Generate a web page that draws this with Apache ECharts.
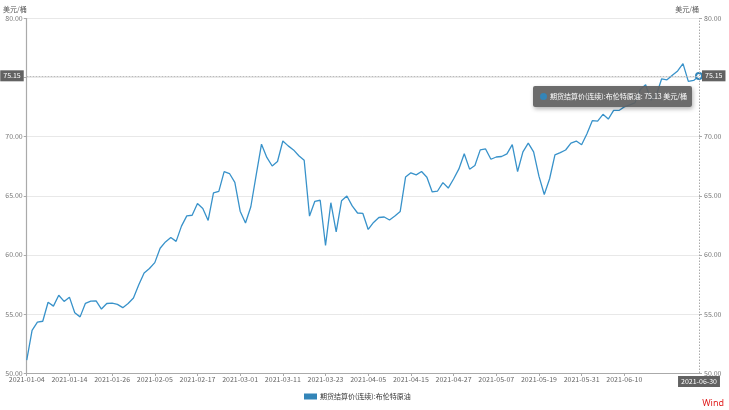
<!DOCTYPE html>
<html><head><meta charset="utf-8">
<script src="https://cdn.jsdelivr.net/npm/echarts/dist/echarts.min.js"></script>
<style>html,body{margin:0;padding:0;background:#fff}#c{width:729px;height:410px}</style>
</head><body><div id="c"></div>
<script>
const dates = [
'2021-01-04','2021-01-05','2021-01-06','2021-01-07','2021-01-08','2021-01-11','2021-01-12','2021-01-13','2021-01-14','2021-01-15',
'2021-01-18','2021-01-19','2021-01-20','2021-01-21','2021-01-22','2021-01-25','2021-01-26','2021-01-27','2021-01-28','2021-01-29',
'2021-02-01','2021-02-02','2021-02-03','2021-02-04','2021-02-05','2021-02-08','2021-02-09','2021-02-10','2021-02-11','2021-02-12',
'2021-02-15','2021-02-16','2021-02-17','2021-02-18','2021-02-19','2021-02-22','2021-02-23','2021-02-24','2021-02-25','2021-02-26',
'2021-03-01','2021-03-02','2021-03-03','2021-03-04','2021-03-05','2021-03-08','2021-03-09','2021-03-10','2021-03-11','2021-03-12',
'2021-03-15','2021-03-16','2021-03-17','2021-03-18','2021-03-19','2021-03-22','2021-03-23','2021-03-24','2021-03-25','2021-03-26',
'2021-03-29','2021-03-30','2021-03-31','2021-04-01','2021-04-05','2021-04-06','2021-04-07','2021-04-08','2021-04-09','2021-04-12',
'2021-04-13','2021-04-14','2021-04-15','2021-04-16','2021-04-19','2021-04-20','2021-04-21','2021-04-22','2021-04-23','2021-04-26',
'2021-04-27','2021-04-28','2021-04-29','2021-04-30','2021-05-03','2021-05-04','2021-05-05','2021-05-06','2021-05-07','2021-05-10',
'2021-05-11','2021-05-12','2021-05-13','2021-05-14','2021-05-17','2021-05-18','2021-05-19','2021-05-20','2021-05-21','2021-05-24',
'2021-05-25','2021-05-26','2021-05-27','2021-05-28','2021-05-31','2021-06-01','2021-06-02','2021-06-03','2021-06-04','2021-06-07',
'2021-06-08','2021-06-09','2021-06-10','2021-06-11','2021-06-14','2021-06-15','2021-06-16','2021-06-17','2021-06-18','2021-06-21',
'2021-06-22','2021-06-23','2021-06-24','2021-06-25','2021-06-28','2021-06-29','2021-06-30'
];
const brent = [
51.09,53.60,54.30,54.38,55.99,55.66,56.58,56.06,56.42,55.10,
54.75,55.90,56.08,56.10,55.41,55.88,55.91,55.81,55.53,55.88,
56.35,57.46,58.46,58.84,59.34,60.56,61.09,61.47,61.14,62.43,
63.30,63.35,64.34,63.93,62.91,65.24,65.37,67.04,66.88,66.13,
63.69,62.70,64.07,66.74,69.36,68.24,67.52,67.90,69.63,69.22,
68.88,68.39,68.00,63.28,64.53,64.62,60.79,64.41,61.95,64.57,
64.98,64.14,63.54,63.50,62.15,62.74,63.16,63.20,62.95,63.28,
63.67,66.58,66.94,66.77,67.05,66.57,65.32,65.40,66.11,65.65,
66.42,67.27,68.56,67.25,67.56,68.88,68.96,68.09,68.28,68.32,
68.55,69.32,67.05,68.71,69.46,68.71,66.66,65.11,66.44,68.46,
68.65,68.87,69.46,69.63,69.32,70.25,71.35,71.31,71.89,71.49,
72.22,72.22,72.52,72.69,72.86,73.99,74.39,73.08,73.51,74.90,
74.81,75.19,75.56,76.18,74.68,74.76,75.13
];
const seriesName = '期货结算价(连续):布伦特原油';
const unit = '美元/桶';
const yMin = 50, yMax = 80, yStep = 5;
const pointerY = 75.15;
const FONT = "'Noto Sans CJK SC','Noto Sans',sans-serif";
const COLOR = '#3385b8';

const showLabel = (i) => i % 8 === 0 && i !== 120;

const chart = echarts.init(document.getElementById('c'));
const ptrLabel = {
  show: true, backgroundColor: '#626262', color: '#fff', fontSize: 7, fontFamily: FONT,
  padding: [2, 3, 2, 3], borderRadius: 0,
  formatter: (p) => p.axisDimension === 'y' ? Number(p.value).toFixed(2) : p.value
};
const yBase = {
  type: 'value', min: yMin, max: yMax, interval: yStep,
  name: unit, nameLocation: 'end', nameGap: 6,
  nameTextStyle: { fontSize: 7, color: '#555', fontFamily: FONT, align: 'right' },
  axisLabel: { fontSize: 7, color: '#777', fontFamily: FONT, formatter: v => v.toFixed(2) },
  axisTick: { show: true, length: 3, lineStyle: { color: '#aaa' } },
  axisPointer: { label: ptrLabel }
};
chart.setOption({
  animation: false,
  grid: { left: 26, right: 30, top: 18.5, bottom: 37, containLabel: false },
  xAxis: {
    type: 'category', data: dates, boundaryGap: false,
    axisLine: { lineStyle: { color: '#aaa' } },
    axisTick: { interval: (i) => showLabel(i), length: 3, lineStyle: { color: '#aaa' } },
    axisLabel: { interval: (i) => showLabel(i), fontSize: 7, color: '#666', margin: 3, fontFamily: FONT },
    axisPointer: { label: ptrLabel }
  },
  yAxis: [
    Object.assign({}, yBase, {
      position: 'left',
      axisLine: { show: true, lineStyle: { color: '#aaa', width: 1.2 } },
      splitLine: { show: true, lineStyle: { color: '#e8e8e8' } },
      axisLabel: Object.assign({}, yBase.axisLabel, { margin: 4 })
    }),
    Object.assign({}, yBase, {
      position: 'right',
      axisLine: { show: false },
      splitLine: { show: false },
      axisLabel: Object.assign({}, yBase.axisLabel, { margin: 5 })
    })
  ],
  tooltip: {
    trigger: 'axis', triggerOn: 'none', alwaysShowContent: true, transitionDuration: 0,
    position: [533, 86],
    backgroundColor: 'rgba(95,95,95,0.92)', borderWidth: 0, padding: [5, 5, 5, 7],
    extraCssText: 'box-shadow:1px 2px 4px rgba(0,0,0,0.3);border-radius:2px;',
    textStyle: { color: '#fff', fontSize: 7, fontFamily: FONT },
    axisPointer: {
      type: 'cross',
      lineStyle: { color: '#aaa', type: [1.5, 1.5], width: 1 },
      crossStyle: { color: '#bbb', type: [1.5, 1.5], width: 1 },
      label: ptrLabel
    },
    formatter: (ps) => {
      const p = ps[0];
      return '<span style="display:inline-block;width:7px;height:7px;border-radius:50%;background:' + COLOR +
        ';margin-right:3px;vertical-align:-1px"></span>' + p.seriesName + ': ' + Number(p.value).toFixed(2) + ' ' + unit;
    }
  },
  legend: {
    data: [seriesName], left: 299, top: 388, icon: 'rect', itemWidth: 13, itemHeight: 6, itemGap: 3,
    textStyle: { fontSize: 7, color: '#333', fontFamily: FONT, padding: [0, 0, 0, -2] }
  },
  graphic: [{
    type: 'text', right: 5, bottom: 2,
    style: { text: 'Wind', fill: '#e02020', fontSize: 9, fontFamily: "'Noto Sans',sans-serif" }
  }],
  series: [{
    name: seriesName, type: 'line', data: brent, yAxisIndex: 0,
    showSymbol: false, symbol: 'emptyCircle', symbolSize: 6,
    lineStyle: { color: COLOR, width: 1.3 }, itemStyle: { color: COLOR },
    emphasis: { disabled: false, scale: false, lineStyle: { width: 1.3 } }
  }]
});
const px = chart.convertToPixel({ xAxisIndex: 0 }, dates.length - 1);
const py = chart.convertToPixel({ yAxisIndex: 0 }, pointerY);
chart.dispatchAction({ type: 'showTip', x: px, y: py });
</script></body></html>
